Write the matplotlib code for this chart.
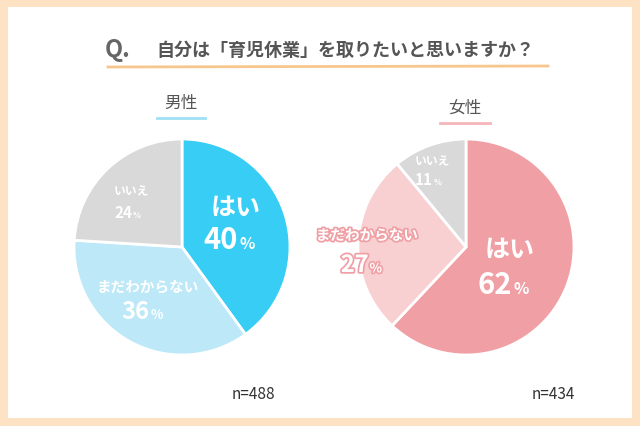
import matplotlib
matplotlib.use("Agg")
import matplotlib.pyplot as plt
import matplotlib.patheffects as pe
from matplotlib.patches import Rectangle

plt.rcParams['font.family'] = ['Noto Sans CJK JP', 'DejaVu Sans']

labels = ["はい", "まだわからない", "いいえ"]
male = [40, 36, 24]
female = [62, 27, 11]
male_colors = ["#38cdf5", "#bde8f8", "#d9d9d9"]
female_colors = ["#f0a0a5", "#f8d0d2", "#d9d9d9"]
male_n = 488
female_n = 434

W, H = 640, 427
fig = plt.figure(figsize=(6.4, 4.27), dpi=100)
fig.patch.set_facecolor("#fde3c3")
fig.add_artist(Rectangle((8/W, 8/H), 1-16/W, 1-16/H, transform=fig.transFigure,
                         facecolor="white", edgecolor="none", zorder=0))

def px(x, y):
    return x / W, 1 - y / H

def pie(cx, cy, r, vals, cols):
    ax = fig.add_axes([(cx - r) / W, 1 - (cy + r) / H, 2 * r / W, 2 * r / H])
    ax.pie(vals, colors=cols, startangle=90, counterclock=False,
           wedgeprops=dict(edgecolor="white", linewidth=2))
    ax.set_xlim(-1, 1); ax.set_ylim(-1, 1)
    ax.set_aspect("equal"); ax.axis("off")

pie(182, 248, 108, male, male_colors)
pie(466, 248, 108, female, female_colors)

def lab(x, y1, y2, name, val, s1, s2, color="white", stroke=None):
    eff = [pe.withStroke(linewidth=2.5, foreground=stroke)] if stroke else None
    fig.text(*px(x, y1), name, ha="center", va="center", fontsize=s1,
             color=color, fontweight="bold", path_effects=eff)
    fig.text(*px(x + s2 * 0.1, y2), f"{val}", ha="right", va="center",
             fontsize=s2, color=color, fontweight="bold", path_effects=eff)
    fig.text(*px(x + s2 * 0.15, y2 + s2 * 0.2), "%", ha="left", va="center",
             fontsize=s2 * 0.55, color=color, fontweight="bold", path_effects=eff)

lab(236, 208, 240, labels[0], male[0], 18, 21)
lab(148, 287, 312, labels[1], male[1], 10.5, 17)
lab(131, 192, 213, labels[2], male[2], 8.5, 11)
lab(510, 250, 285, labels[0], female[0], 18, 21)
lab(367, 236, 266, labels[1], female[1], 10.5, 17, stroke="#f0a0a5")
lab(432, 162, 180, labels[2], female[2], 8.5, 11)

fig.text(*px(118, 50), "Q.", ha="center", va="center", fontsize=17, fontweight="bold", color="#666666")
fig.text(*px(345, 50), "自分は「育児休業」を取りたいと思いますか？", ha="center", va="center",
         fontsize=13, fontweight="bold", color="#555555")
fig.add_artist(plt.Line2D([108/W, 548/W], [1-68/H, 1-67/H], color="#f5b870", lw=2, alpha=0.8))

fig.text(*px(181, 103), "男性", ha="center", va="center", fontsize=12, color="#555555")
fig.add_artist(plt.Line2D([157/W, 205/W], [1-119/H, 1-119/H], color="#9fe0f5", lw=2))
fig.text(*px(465, 108), "女性", ha="center", va="center", fontsize=12, color="#555555")
fig.add_artist(plt.Line2D([440/W, 490/W], [1-124/H, 1-124/H], color="#f5b5ba", lw=2))

fig.text(*px(253, 395), f"n={male_n}", ha="center", va="center", fontsize=11, color="#333333")
fig.text(*px(553, 395), f"n={female_n}", ha="center", va="center", fontsize=11, color="#333333")

fig.savefig("out.png", dpi=100)
